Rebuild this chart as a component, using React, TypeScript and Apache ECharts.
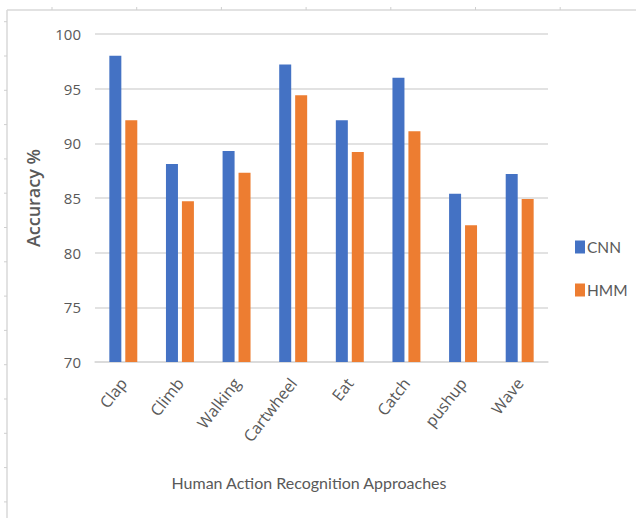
import React, { useEffect, useRef } from "react";
import * as echarts from "echarts";

const categories = ["Clap", "Climb", "Walking", "Cartwheel", "Eat", "Catch", "pushup", "Wave"];
const cnnValues = [98.0, 88.1, 89.3, 97.2, 92.1, 96.0, 85.4, 87.2];
const hmmValues = [92.1, 84.7, 87.3, 94.4, 89.2, 91.1, 82.5, 84.9];
const seriesNames = ["CNN", "HMM"];

export default function App() {
  const ref = useRef<HTMLDivElement>(null);
  useEffect(() => {
    if (!ref.current) return;
    const chart = echarts.init(ref.current, undefined, { renderer: "svg" });
    const frame: any[] = [
      { type: "line", shape: { x1: 7, y1: 10, x2: 636, y2: 10 }, style: { stroke: "#d9d9d9", lineWidth: 1.5 }, silent: true },
      { type: "line", shape: { x1: 7, y1: 10, x2: 7, y2: 518 }, style: { stroke: "#d9d9d9", lineWidth: 1.5 }, silent: true },
    ];
    for (let i = 0; i < 7; i++) {
      const x = 52 + i * 84.7;
      frame.push({ type: "line", shape: { x1: x, y1: 7, x2: x, y2: 10 }, style: { stroke: "#cfcfcf", lineWidth: 1 }, silent: true });
    }
    for (let i = 0; i < 15; i++) {
      const y = 21.7 + i * 34.3;
      frame.push({ type: "line", shape: { x1: 4, y1: y, x2: 7, y2: y }, style: { stroke: "#cfcfcf", lineWidth: 1 }, silent: true });
    }
    chart.setOption({
      animation: false,
      textStyle: { fontFamily: "'Open Sans', sans-serif" },
      graphic: frame,
      title: {
        text: "Human Action Recognition Approaches",
        left: 304,
        top: 469,
        textAlign: "center",
        textStyle: { fontSize: 16, fontWeight: "normal", color: "#595959", fontFamily: "Lato, sans-serif" },
      },
      legend: {
        orient: "vertical",
        left: 575,
        top: 239,
        padding: 0,
        itemWidth: 10,
        itemHeight: 13,
        itemGap: 27,
        icon: "rect",
        data: seriesNames,
        textStyle: { fontSize: 15.5, color: "#595959", fontFamily: "Lato, sans-serif", padding: [0, 0, 0, -3] },
      },
      grid: { left: 95, right: 88, top: 34, bottom: 156, containLabel: false },
      xAxis: {
        type: "category",
        data: categories,
        axisLine: { lineStyle: { color: "#d9d9d9", width: 1.5 } },
        axisTick: { show: false },
        axisLabel: {
          rotate: 52,
          interval: 0,
          fontSize: 16,
          color: "#595959",
          margin: 18,
        },
      },
      yAxis: {
        type: "value",
        min: 70,
        max: 100,
        interval: 5,
        name: "Accuracy %",
        nameLocation: "middle",
        nameRotate: 90,
        nameGap: 53,
        nameTextStyle: { fontSize: 18, fontWeight: 600, color: "#595959" },
        axisLine: { show: false },
        axisTick: { show: false },
        axisLabel: { fontSize: 15, color: "#595959", margin: 14 },
        splitLine: { lineStyle: { color: "#d9d9d9", width: 1.5 } },
      },
      series: [
        {
          name: seriesNames[0],
          type: "bar",
          data: cnnValues,
          barWidth: 12,
          barGap: "33%",
          itemStyle: { color: "#4472c4" },
        },
        {
          name: seriesNames[1],
          type: "bar",
          data: hmmValues,
          barWidth: 12,
          itemStyle: { color: "#ed7d31" },
        },
      ],
    });
    return () => chart.dispose();
  }, []);
  return <div ref={ref} style={{ width: 636, height: 518, position: "absolute", left: 0, top: 0 }} />;
}
